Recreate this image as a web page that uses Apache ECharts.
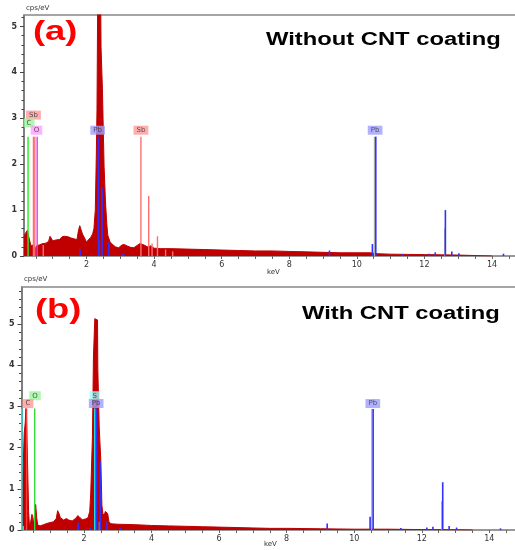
<!DOCTYPE html>
<html><head><meta charset="utf-8">
<script src="https://cdn.jsdelivr.net/npm/echarts@6/dist/echarts.min.js"></script>
<style>html,body{margin:0;padding:0;background:#fff}#c{width:515px;height:550px}</style>
</head><body><div id="c"></div>
<script>
// ---------- Data: panel (a) Without CNT coating ----------
const specAKeV = [0.15,0.18,0.22,0.25,0.28,0.30,0.33,0.36,0.40,0.44,0.48,0.52,0.56,0.60,0.65,0.70,0.80,0.88,0.92,0.96,1.00,1.10,1.20,1.28,1.35,1.45,1.55,1.65,1.72,1.76,1.80,1.84,1.88,1.95,2.00,2.05,2.12,2.18,2.22,2.26,2.29,2.31,2.33,2.42,2.43,2.46,2.47,2.50,2.52,2.56,2.60,2.63,2.66,2.70,2.76,2.85,2.95,3.05,3.12,3.20,3.30,3.40,3.50,3.58,3.62,3.70,3.80,3.90,4.00,4.20,4.50,5.00,5.50,6.00,6.50,7.00,7.50,8.00,8.50,9.00,9.50,10.00,10.40,10.60,11.00,11.50,12.00,12.50,13.00,13.50,13.70,14.00];
const specACps = [0.40,0.48,0.50,0.56,0.45,0.48,0.30,0.22,0.18,0.25,0.15,0.22,0.18,0.24,0.20,0.27,0.28,0.32,0.43,0.40,0.33,0.35,0.36,0.42,0.43,0.42,0.39,0.37,0.36,0.55,0.66,0.62,0.48,0.38,0.30,0.35,0.40,0.48,0.60,1.00,2.20,3.20,5.50,5.50,4.55,4.55,3.65,3.65,1.95,1.20,0.70,0.45,0.42,0.30,0.26,0.20,0.18,0.24,0.25,0.22,0.19,0.18,0.23,0.27,0.28,0.24,0.20,0.22,0.17,0.16,0.16,0.15,0.14,0.13,0.12,0.11,0.11,0.10,0.09,0.08,0.07,0.07,0.07,0.05,0.04,0.035,0.03,0.025,0.02,0.01,0.005,0.0];
// element marker lines [keV, cps/eV]
const aLinesC  = [[0.27,2.6]];
const aLinesSb = [[0.43,2.6],[0.47,2.6],[0.72,0.24],[3.61,2.6],[3.84,1.31],[3.94,0.27],[4.10,0.43],[4.34,0.14],[4.55,0.10]];
const aLinesO  = [[0.54,2.6]];
const aLinesPb = [[1.81,0.15],[2.35,2.6],[2.38,0.35],[2.46,1.5],[2.66,0.3],[3.05,0.05],[3.10,0.05],[9.19,0.12],[10.46,0.26],[10.56,2.6],[11.35,0.04],[12.14,0.05],[12.32,0.08],[12.62,1.0],[12.81,0.1],[13.02,0.06],[14.34,0.05]];
const aLinesGray = [[10.52,2.6],[12.60,0.6]];
// element labels [keV, cps/eV, name]
const aLabels = [[0.43,3.07,'Sb','#ff9a9a'],[0.30,2.90,'C','#9cf59c'],[0.52,2.74,'O','#ff9cff'],[2.33,2.74,'Pb','#9d9dff'],[3.61,2.74,'Sb','#ff9a9a'],[10.54,2.74,'Pb','#9d9dff']];

// ---------- Data: panel (b) With CNT coating ----------
const specBKeV = [0.15,0.17,0.20,0.23,0.26,0.28,0.30,0.32,0.34,0.36,0.38,0.40,0.43,0.46,0.48,0.50,0.54,0.57,0.60,0.63,0.70,0.80,0.90,1.00,1.10,1.18,1.22,1.26,1.30,1.40,1.48,1.55,1.65,1.75,1.82,1.88,1.95,2.05,2.12,2.17,2.20,2.23,2.25,2.28,2.31,2.32,2.40,2.41,2.44,2.45,2.48,2.50,2.53,2.56,2.60,2.63,2.66,2.70,2.74,2.80,3.00,3.50,4.00,4.50,5.00,5.50,6.00,6.50,7.00,7.50,8.00,9.00,10.00,11.00,12.00,13.00,13.50];
const specBCps = [0.30,0.60,1.55,2.35,2.60,2.95,2.70,2.70,1.22,0.45,0.18,0.10,0.08,0.38,0.30,0.12,0.15,0.62,0.30,0.12,0.10,0.13,0.16,0.18,0.20,0.28,0.47,0.40,0.30,0.24,0.28,0.24,0.22,0.28,0.35,0.30,0.25,0.27,0.30,0.45,0.90,0.90,2.27,4.20,4.20,5.13,5.10,3.90,3.90,2.50,2.50,1.65,0.60,0.40,0.35,0.45,0.48,0.40,0.20,0.15,0.14,0.13,0.11,0.10,0.09,0.08,0.07,0.06,0.05,0.04,0.04,0.03,0.02,0.02,0.01,0.005,0.0];
const bLinesS  = [[0.16,2.95],[0.20,0.1],[2.32,2.95],[2.46,0.2]];
const bLinesC  = [[0.30,2.95]];
const bLinesO  = [[0.54,2.95]];
const bLinesPb = [[1.83,0.18],[2.18,0.05],[2.37,2.95],[2.48,1.67],[2.68,0.2],[3.07,0.05],[9.20,0.16],[10.47,0.32],[10.56,2.94],[11.38,0.05],[12.15,0.06],[12.33,0.08],[12.62,1.16],[12.81,0.1],[13.03,0.06],[14.33,0.04]];
const bLinesGray = [[10.52,2.94],[12.59,0.7]];
const bLabels = [[0.55,3.26,'O','#9cf59c'],[0.34,3.07,'C','#ff9a9a'],[2.32,3.26,'S','#9cffff'],[2.36,3.07,'Pb','#9d9dff'],[10.55,3.07,'Pb','#9d9dff']];

// ---------- Tick values ----------
const xLabelVals = [2,4,6,8,10,12,14];
const xTickVals = [0.5,1,1.5,2,2.5,3,3.5,4,4.5,5,5.5,6,6.5,7,7.5,8,8.5,9,9.5,10,10.5,11,11.5,12,12.5,13,13.5,14,14.5];
const yLabelValsA = [0,1,2,3,4,5];
const yLabelValsB = [0,1,2,3,4,5];
const yMinorVals = [0.2,0.4,0.6,0.8,1.2,1.4,1.6,1.8,2.2,2.4,2.6,2.8,3.2,3.4,3.6,3.8,4.2,4.4,4.6,4.8,5.2,5.4,5.6,5.8];

const chart = echarts.init(document.getElementById('c'), null, {renderer:'canvas'});
const FONT = 'Liberation Sans';

function pairs(xs, ys){ return xs.map((x,i)=>[x, ys[i]]); }

function sticks(gi, data, color, w, z){
  return {type:'custom', xAxisIndex: gi*2, yAxisIndex: gi*2, data: data, z: z||4, clip:true,
    renderItem: function(params, api){
      const p0 = api.coord([api.value(0), 0]);
      const p1 = api.coord([api.value(0), api.value(1)]);
      return {type:'rect', shape:{x:p0[0]-w/2, y:p1[1], width:w, height:p0[1]-p1[1]}, style:{fill:color}};
    }};
}
function labels(gi, data){
  return {type:'scatter', xAxisIndex: gi*2, yAxisIndex: gi*2, symbolSize:0, z:6,
    data: data.map(d=>({value:[d[0],d[1]], label:{backgroundColor:d[3]}})),
    label:{show:true, position:'inside', formatter:(p)=>data[p.dataIndex][2], fontFamily:'DejaVu Sans', fontSize:7, color:'#333', padding:[1,3,1,3]},
    emphasis:{disabled:true}, silent:true};
}

function xAxes(gi, min, max){
  return [
    {type:'value', gridIndex:gi, min:min, max:max, position:'bottom',
      axisLine:{show:true, onZero:false, lineStyle:{color:'#777', width:1.5}},
      axisTick:{show:true, customValues:xTickVals, length:3, lineStyle:{color:'#666'}},
      axisLabel:{customValues:xLabelVals, fontSize:8, fontFamily:'DejaVu Sans', color:'#333', margin:5},
      splitLine:{show:false}},
    {type:'value', gridIndex:gi, min:min, max:max, position:'top',
      axisLine:{show:true, onZero:false, lineStyle:{color:'#888', width:1.5}},
      axisTick:{show:false}, axisLabel:{show:false}, splitLine:{show:false}}
  ];
}
function yAxes(gi, max, labs){
  return [
    {type:'value', gridIndex:gi, min:0, max:max, position:'left',
      axisLine:{show:true, onZero:false, lineStyle:{color:'#555', width:1.5}},
      axisTick:{show:true, customValues:labs, length:4, lineStyle:{color:'#444'}},
      axisLabel:{customValues:labs, fontSize:8, fontFamily:'DejaVu Sans', fontWeight:'bold', color:'#333', margin:7},
      splitLine:{show:false}},
    {type:'value', gridIndex:gi, min:0, max:max, position:'left',
      axisLine:{show:false},
      axisTick:{show:true, customValues:yMinorVals.filter(v=>v<max), length:2.5, lineStyle:{color:'#444'}},
      axisLabel:{show:false}, splitLine:{show:false}}
  ];
}

const RED = '#c00000';
const option = {
  animation:false,
  backgroundColor:'#fff',
  grid:[
    {left:24, top:15, width:491, height:241},
    {left:21.5, top:287, width:493.5, height:243}
  ],
  xAxis:[...xAxes(0,0.15,14.68), ...xAxes(1,0.15,14.76)],
  yAxis:[...yAxes(0,5.25,yLabelValsA), ...yAxes(1,5.9,yLabelValsB)],
  series:[
    {type:'line', xAxisIndex:0, yAxisIndex:0, data:pairs(specAKeV,specACps), symbol:'none', z:2,
      lineStyle:{width:1, color:RED}, areaStyle:{color:RED, opacity:1}, silent:true},
    sticks(0, aLinesGray, '#aaaaaa', 1.2, 3),
    sticks(0, aLinesSb, '#ff6f6f', 1.4),
    sticks(0, aLinesC, '#22ee22', 1.4),
    sticks(0, aLinesO, '#ee33ee', 1.4),
    sticks(0, aLinesPb, '#3030ff', 1.6),
    labels(0, aLabels),
    {type:'line', xAxisIndex:2, yAxisIndex:2, data:pairs(specBKeV,specBCps), symbol:'none', z:2,
      lineStyle:{width:1, color:RED}, areaStyle:{color:RED, opacity:1}, silent:true},
    sticks(1, bLinesGray, '#aaaaaa', 1.2, 3),
    sticks(1, bLinesS, '#22dddd', 1.6),
    sticks(1, bLinesC, '#ff3b3b', 1.4),
    sticks(1, bLinesO, '#33dd33', 1.4),
    sticks(1, bLinesPb, '#3030ff', 1.6),
    labels(1, bLabels)
  ],
  graphic:[
    {type:'text', x:33, y:18, scaleX:1.3, style:{text:'(a)', font:'bold 28px "Liberation Sans"', fill:'#ff0000'}},
    {type:'text', x:266, y:31, scaleX:1.32, style:{text:'Without CNT coating', font:'bold 18px "Liberation Sans"', fill:'#000'}},
    {type:'text', x:26, y:5, style:{text:'cps/eV', font:'7px "DejaVu Sans"', fill:'#333'}},
    {type:'text', x:267, y:269, style:{text:'keV', font:'7px "DejaVu Sans"', fill:'#333'}},
    {type:'text', x:35, y:296, scaleX:1.3, style:{text:'(b)', font:'bold 28px "Liberation Sans"', fill:'#ff0000'}},
    {type:'text', x:302, y:305, scaleX:1.32, style:{text:'With CNT coating', font:'bold 18px "Liberation Sans"', fill:'#000'}},
    {type:'text', x:24, y:276, style:{text:'cps/eV', font:'7px "DejaVu Sans"', fill:'#333'}},
    {type:'text', x:264, y:541, style:{text:'keV', font:'7px "DejaVu Sans"', fill:'#333'}}
  ]
};
chart.setOption(option);
</script></body></html>
